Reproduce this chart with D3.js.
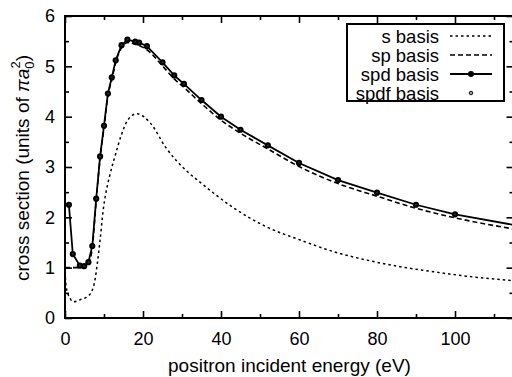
<!DOCTYPE html>
<html lang="en">
<head>
<meta charset="UTF-8">
<title>cross section vs positron energy</title>
<script src="https://cdn.jsdelivr.net/npm/d3@7"></script>
<style>
  body { margin: 0; background: #fff; }
  text { font-family: "Liberation Sans", Arial, sans-serif; fill: #000; }
</style>
</head>
<body>
<div id="chart"></div>
<script>
// values
const sEnergy = [0, 0.3, 1.3, 2.1, 3.8, 5.6, 6.8, 7.7, 8.3, 9, 9.8, 10.4, 11.5, 12.8, 14.3, 16, 18.4, 21.8, 26, 31.2, 34.6, 43.2, 51.7, 60.3, 68.8, 77.4, 85.9, 94.4, 103, 115];
const sValues = [0.92, 0.62, 0.39, 0.32, 0.36, 0.42, 0.52, 0.76, 1.09, 1.55, 2.15, 2.45, 2.84, 3.21, 3.6, 3.92, 4.06, 3.88, 3.37, 2.92, 2.70, 2.19, 1.81, 1.55, 1.32, 1.15, 1.02, 0.92, 0.83, 0.74];

const spEnergy = [0, 1, 2, 3, 4, 5, 6, 7, 8, 9, 10, 11, 12, 13, 14.5, 16, 18, 19, 21, 25, 28, 30.5, 35, 40, 45, 52, 60, 70, 80, 90, 100, 115];
const spValues = [1.0, 1.0, 1.0, 1.0, 1.01, 1.03, 1.09, 1.40, 2.33, 3.17, 3.78, 4.41, 4.73, 5.07, 5.37, 5.47, 5.44, 5.41, 5.33, 5.01, 4.75, 4.58, 4.26, 3.93, 3.67, 3.36, 3.01, 2.67, 2.42, 2.18, 1.99, 1.77];

const spdEnergy = [1, 2, 3.8, 4.9, 6, 7, 8, 9, 10, 11, 12, 13, 14.5, 16, 18, 19, 21, 25, 28, 30.5, 35, 40, 45, 52, 60, 70, 80, 90, 100, 120];
const spdValues = [2.25, 1.27, 1.04, 1.03, 1.11, 1.43, 2.37, 3.21, 3.82, 4.46, 4.78, 5.12, 5.42, 5.53, 5.49, 5.47, 5.40, 5.08, 4.82, 4.65, 4.33, 4.00, 3.74, 3.43, 3.08, 2.74, 2.49, 2.25, 2.06, 1.78];

const spdfEnergy = [1, 2, 3.8, 4.9, 6, 7, 8, 9, 10, 11, 12, 13, 14.5, 16, 18, 19, 21, 25, 28, 30.5, 35, 40, 45, 52, 60, 70, 80, 90, 100];
const spdfValues = [2.25, 1.27, 1.04, 1.03, 1.11, 1.43, 2.37, 3.21, 3.82, 4.46, 4.78, 5.12, 5.42, 5.53, 5.49, 5.47, 5.40, 5.08, 4.82, 4.65, 4.33, 4.00, 3.74, 3.43, 3.08, 2.74, 2.49, 2.25, 2.06];

const xMajor = [0, 20, 40, 60, 80, 100];
const xMinor = [10, 30, 50, 70, 90, 110];
const yMajor = [0, 1, 2, 3, 4, 5, 6];
const yMinor = [0.5, 1.5, 2.5, 3.5, 4.5, 5.5];
const legendLabels = ['s basis', 'sp basis', 'spd basis', 'spdf basis'];

const w = 512, h = 377;
const pLeft = 65, pRight = 513.5, pTop = 16, pBottom = 318;

const x = d3.scaleLinear().domain([0, 115]).range([pLeft, pRight]);
const y = d3.scaleLinear().domain([0, 6]).range([pBottom, pTop]);

const svg = d3.select('#chart').append('svg')
  .attr('width', w).attr('height', h);

svg.append('defs').append('clipPath').attr('id', 'plot')
  .append('rect').attr('x', pLeft).attr('y', pTop)
  .attr('width', pRight - pLeft).attr('height', pBottom - pTop);

// ticks on all four sides, pointing inwards
function ticks(axis, tr, size, vals, labels, pad) {
  const g = svg.append('g').attr('transform', tr)
    .call(axis.tickValues(vals).tickSize(size).tickPadding(pad)
      .tickFormat(labels ? d3.format('d') : ''));
  g.select('.domain').remove();
  g.selectAll('line').attr('stroke', '#000').attr('stroke-width', 1.6);
  g.selectAll('text').style('font-size', '18px');
  return g;
}
ticks(d3.axisBottom(x), `translate(0,${pBottom})`, -7, xMajor, true, 14);
ticks(d3.axisBottom(x), `translate(0,${pBottom})`, -4, xMinor, false, 0);
ticks(d3.axisTop(x), `translate(0,${pTop})`, -7, xMajor, false, 0);
ticks(d3.axisTop(x), `translate(0,${pTop})`, -4, xMinor, false, 0);
ticks(d3.axisLeft(y), `translate(${pLeft},0)`, -7, yMajor, true, 10);
ticks(d3.axisLeft(y), `translate(${pLeft},0)`, -4, yMinor, false, 0);
ticks(d3.axisRight(y), `translate(${pRight},0)`, -7, yMajor, false, 0);
ticks(d3.axisRight(y), `translate(${pRight},0)`, -4, yMinor, false, 0);

const plot = svg.append('g').attr('clip-path', 'url(#plot)');

const pts = (xs, ys) => xs.map((e, i) => [e, ys[i]]);
const smooth = d3.line().x(d => x(d[0])).y(d => y(d[1])).curve(d3.curveMonotoneX);
const straight = d3.line().x(d => x(d[0])).y(d => y(d[1]));

plot.append('path').datum(pts(sEnergy, sValues))
  .attr('d', smooth).attr('fill', 'none').attr('stroke', '#000')
  .attr('stroke-width', 1.5).attr('stroke-dasharray', '2.5,3');

plot.append('path').datum(pts(spEnergy, spValues))
  .attr('d', smooth).attr('fill', 'none').attr('stroke', '#000')
  .attr('stroke-width', 1.6).attr('stroke-dasharray', '5,3');

plot.append('path').datum(pts(spdEnergy, spdValues))
  .attr('d', straight).attr('fill', 'none').attr('stroke', '#000')
  .attr('stroke-width', 1.8);

plot.selectAll('.spd').data(pts(spdEnergy, spdValues)).enter()
  .append('circle').attr('class', 'spd')
  .attr('cx', d => x(d[0])).attr('cy', d => y(d[1]))
  .attr('r', 3.1).attr('fill', '#000');

plot.selectAll('.spdf').data(pts(spdfEnergy, spdfValues)).enter()
  .append('circle').attr('class', 'spdf')
  .attr('cx', d => x(d[0])).attr('cy', d => y(d[1]))
  .attr('r', 1.2).attr('fill', '#333').attr('stroke', '#000').attr('stroke-width', 0.5);

// frame
svg.append('rect').attr('x', pLeft).attr('y', pTop)
  .attr('width', pRight - pLeft).attr('height', pBottom - pTop)
  .attr('fill', 'none').attr('stroke', '#000').attr('stroke-width', 2);

// axis titles
svg.append('text').attr('x', 289.5).attr('y', 372)
  .attr('text-anchor', 'middle').style('font-size', '19px')
  .text('positron incident energy (eV)');

const yt = svg.append('text').attr('transform', 'translate(29,281) rotate(-90)')
  .style('font-size', '19px');
yt.append('tspan').text('cross section (units of ');
yt.append('tspan').style('font-style', 'italic').text('πa');
yt.append('tspan').attr('dy', 5).style('font-size', '13px').text('0');
yt.append('tspan').attr('dx', -7).attr('dy', -14).style('font-size', '13px').text('2');
yt.append('tspan').attr('dy', 9).text(')');

// legend
const legend = svg.append('g');
legend.append('rect').attr('x', 347).attr('y', 24).attr('width', 157).attr('height', 77)
  .attr('fill', '#fff').attr('stroke', '#000').attr('stroke-width', 2);
const rows = [36, 55, 74, 93];
legend.selectAll('text').data(legendLabels).enter().append('text')
  .attr('x', 439).attr('y', (d, i) => rows[i]).attr('dy', '0.36em')
  .attr('text-anchor', 'end').style('font-size', '18.5px').text(d => d);
const dashes = ['2.5,3', '5,3', null];
dashes.forEach((dash, i) => {
  const ln = legend.append('line').attr('x1', 450).attr('x2', 492)
    .attr('y1', rows[i]).attr('y2', rows[i])
    .attr('stroke', '#000').attr('stroke-width', i === 2 ? 1.8 : 1.5);
  if (dash) ln.attr('stroke-dasharray', dash);
});
legend.append('circle').attr('cx', 471).attr('cy', rows[2]).attr('r', 3).attr('fill', '#000');
legend.append('circle').attr('cx', 471).attr('cy', rows[3]).attr('r', 1.8)
  .attr('fill', '#999').attr('stroke', '#000').attr('stroke-width', 0.9);
</script>
</body>
</html>
